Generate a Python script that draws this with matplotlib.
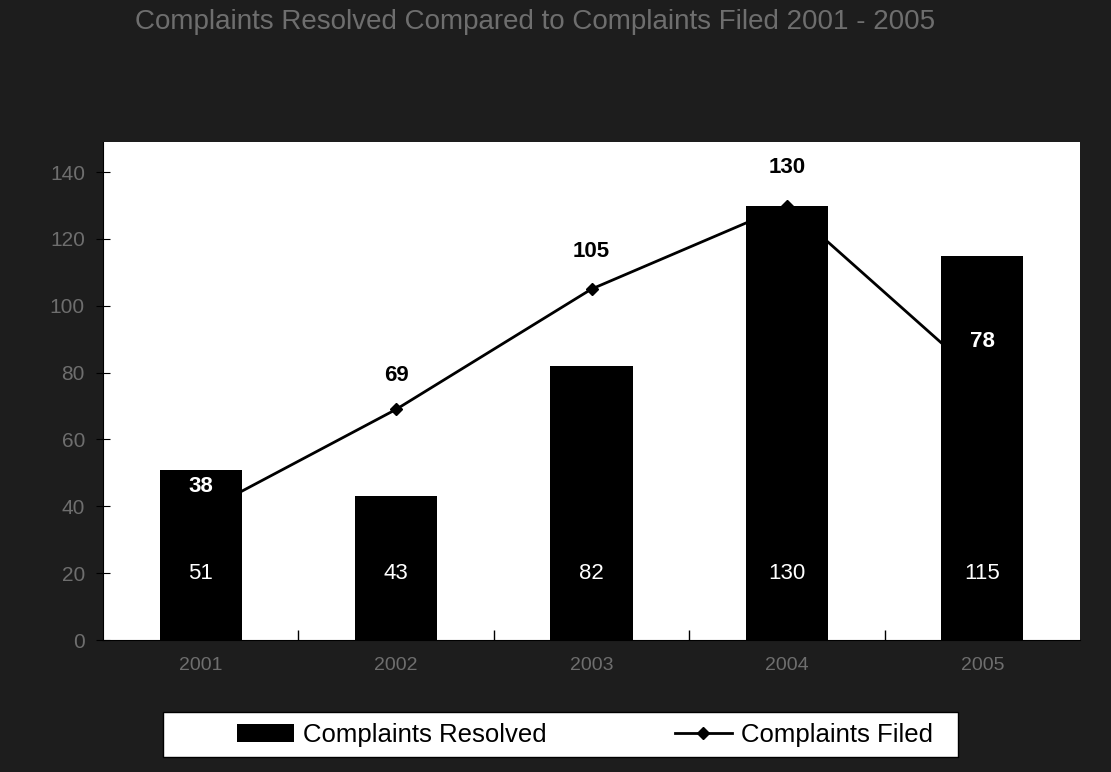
import matplotlib
matplotlib.use("Agg")
import matplotlib.pyplot as plt
from matplotlib.patches import Rectangle
import numpy as np

plt.rcParams['font.family'] = ['Liberation Sans', 'DejaVu Sans']

categories = ["2001", "2002", "2003", "2004", "2005"]
resolved = [51, 43, 82, 130, 115]
filed = [38, 69, 105, 130, 78]
title = "Complaints Resolved Compared to Complaints Filed 2001 - 2005"

bg = '#1d1d1d'
fig = plt.figure(figsize=(11.11, 7.72), dpi=100, facecolor=bg)
ax = fig.add_axes([103/1111, 1-640/772, 977/1111, 498/772])
ax.set_facecolor('white')

x = np.arange(len(categories))
ax.plot(x, filed, color='black', lw=2, marker='D', ms=6.5, zorder=2,
        label='Complaints Filed')
bars = ax.bar(x, resolved, width=0.42, color='black', zorder=3,
              label='Complaints Resolved')

for xi, v in zip(x, resolved):
    ax.text(xi, 20, str(v), color='white', fontsize=16, ha='center',
            va='center', zorder=5)

offsets = [26, 34, 38, 38, 38]
for xi, v, off in zip(x, filed, offsets):
    inside = any(abs(xi - b) < 0.21 and v + off / 3.34 < r for b, r in zip(x, resolved))
    ax.annotate(str(v), (xi, v), xytext=(0, off * 0.72), textcoords='offset points',
                ha='center', va='center', fontsize=16, fontweight='bold',
                color='white' if inside else 'black', zorder=6)

ax.set_xlim(-0.5, len(categories) - 0.5)
ax.set_ylim(0, 149)
ax.set_yticks(np.arange(0, 141, 20))
ax.set_xticks(x)
ax.set_xticklabels(categories)
ax.set_xticks(x[:-1] + 0.5, minor=True)
ax.tick_params(axis='x', which='major', length=0, colors='#6e6e6e', labelsize=14, pad=12)
ax.tick_params(axis='x', which='minor', direction='in', length=7, color='black', width=1)
ax.tick_params(axis='y', direction='inout', length=10, color='black', labelcolor='#6e6e6e',
               labelsize=15, pad=8)
for s in ['top', 'right']:
    ax.spines[s].set_visible(False)
ax.spines['left'].set_color('black')
ax.spines['bottom'].set_color('black')

fig.text(535/1111, 1-22/772, title, color='#6e6e6e', fontsize=20, ha='center', va='center')

# legend box
fig.patches.append(Rectangle((163/1111, 1-757/772), 795/1111, 45/772,
                             transform=fig.transFigure, facecolor='white',
                             edgecolor='black', lw=1, zorder=1))
h, l = ax.get_legend_handles_labels()
leg = fig.legend([h[1], h[0]], [l[1], l[0]], ncol=2, loc='center',
                 bbox_to_anchor=(585/1111, 1-735/772), frameon=False,
                 fontsize=18.5, columnspacing=5.0, handlelength=2.2,
                 handletextpad=0.35, borderpad=0.2)
leg.set_zorder(2)
fig.savefig('out.png', dpi=100, facecolor=bg)
